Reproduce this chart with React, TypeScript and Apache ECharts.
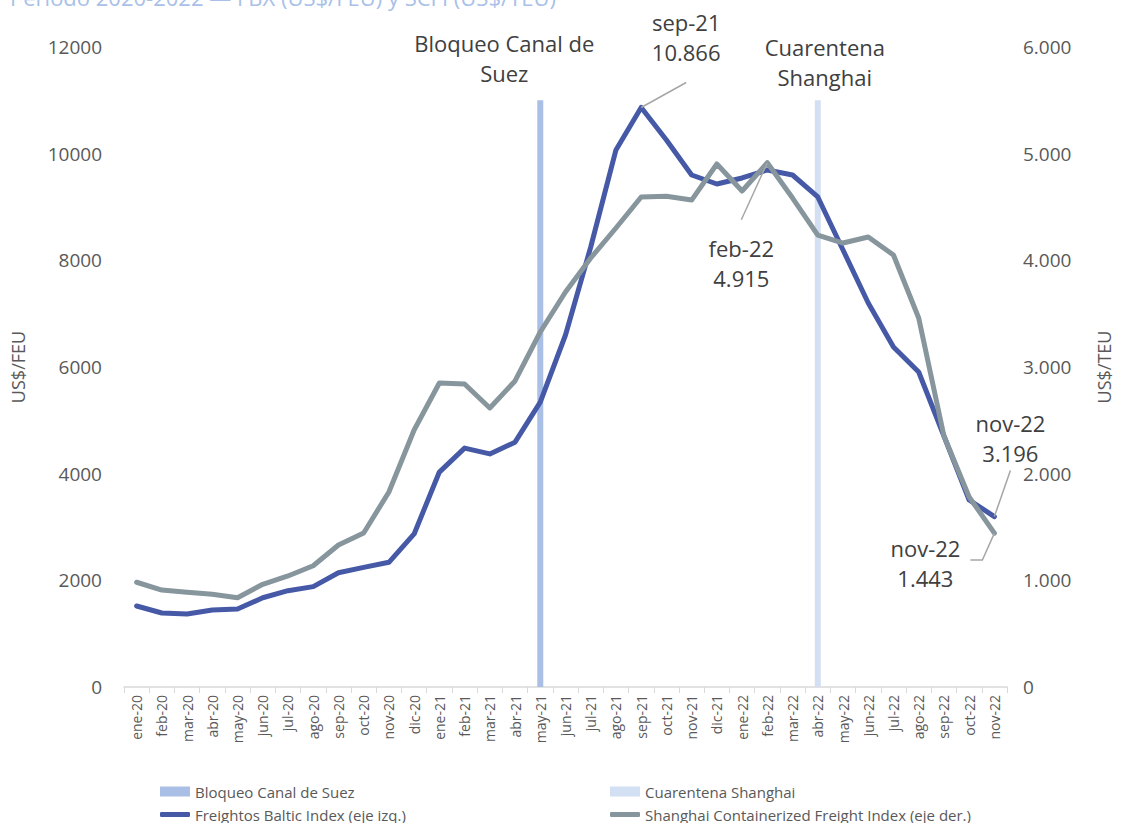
import React, { useEffect, useRef } from "react";
import * as echarts from "echarts";

const categories = [
  "ene-20", "feb-20", "mar-20", "abr-20", "may-20", "jun-20", "jul-20", "ago-20", "sep-20", "oct-20", "nov-20", "dic-20",
  "ene-21", "feb-21", "mar-21", "abr-21", "may-21", "jun-21", "jul-21", "ago-21", "sep-21", "oct-21", "nov-21", "dic-21",
  "ene-22", "feb-22", "mar-22", "abr-22", "may-22", "jun-22", "jul-22", "ago-22", "sep-22", "oct-22", "nov-22",
];

const fbx = [
  1519, 1388, 1369, 1444, 1462, 1674, 1806, 1882, 2143, 2244, 2338, 2870,
  4030, 4480, 4370, 4590, 5340, 6600, 8250, 10070, 10866, 10257, 9600, 9431,
  9544, 9694, 9600, 9188, 8194, 7200, 6375, 5906, 4706, 3506, 3196,
];

const scfi = [
  982, 909, 888, 869, 837, 963, 1041, 1137, 1331, 1444, 1828, 2409,
  2850, 2841, 2616, 2869, 3328, 3703, 4022, 4303, 4594, 4600, 4565, 4903,
  4650, 4915, 4584, 4237, 4162, 4219, 4050, 3459, 2353, 1781, 1443,
];

const suezMonth = "may-21";
const shanghaiMonth = "abr-22";
const eventBarHeight = 11000;

const suezBar = categories.map((c) => (c === suezMonth ? eventBarHeight : null));
const shanghaiBar = categories.map((c) => (c === shanghaiMonth ? eventBarHeight : null));

const leftTicks = { min: 0, max: 12000, interval: 2000 };
const rightTicks = { min: 0, max: 6000, interval: 1000 };

const titleText = "Periodo 2020-2022 — FBX (US$/FEU) y SCFI (US$/TEU)";
const nameSuez = "Bloqueo Canal de Suez";
const nameShanghai = "Cuarentena Shanghai";
const nameFbx = "Freightos Baltic Index (eje izq.)";
const nameScfi = "Shanghai Containerized Freight Index (eje der.)";

const FONT = "'Open Sans', sans-serif";
const BLUE = "#4659A7";
const GRAY = "#87959D";
const SUEZ_COLOR = "#A9BFE6";
const SHANGHAI_COLOR = "#D3DFF2";
const TEXT = "#404040";
const AXIS_TEXT = "#595959";
const LEADER = "#A6A6A6";

const fmtDots = (v: number) =>
  String(Math.round(v)).replace(/\B(?=(\d{3})+(?!\d))/g, ".");

const legendItem = (name: string, left: number, top: number, icon: string, h: number) => ({
  left,
  top,
  orient: "horizontal",
  itemWidth: 30,
  itemHeight: h,
  icon,
  textStyle: { fontSize: 15, color: AXIS_TEXT, fontFamily: FONT },
  data: [name],
});

export default function App() {
  const ref = useRef<HTMLDivElement>(null);

  useEffect(() => {
    if (!ref.current) return;
    const chart = echarts.init(ref.current, null, { renderer: "svg" });
    chart.setOption({
      animation: false,
      textStyle: { fontFamily: FONT },
      grid: { left: 124, right: 107, top: 47, bottom: 136 },
      legend: [
        legendItem(nameSuez, 155, 779, "rect", 10),
        legendItem(nameFbx, 155, 802, "roundRect", 5),
        legendItem(nameShanghai, 605, 779, "rect", 10),
        legendItem(nameScfi, 605, 802, "roundRect", 5),
      ],
      xAxis: {
        type: "category",
        data: categories,
        boundaryGap: true,
        axisLine: { lineStyle: { color: "#D9D9D9", width: 1.5 } },
        axisTick: { show: true, length: 6, lineStyle: { color: "#D9D9D9" } },
        axisLabel: { rotate: 90, fontSize: 14, color: AXIS_TEXT, margin: 8, interval: 0 },
      },
      yAxis: [
        {
          type: "value",
          ...leftTicks,
          name: "US$/FEU",
          nameLocation: "middle",
          nameRotate: 90,
          nameGap: 97,
          nameTextStyle: { fontSize: 18, color: AXIS_TEXT },
          axisLine: { show: false },
          axisTick: { show: false },
          splitLine: { show: false },
          axisLabel: { fontSize: 19, color: AXIS_TEXT, margin: 22, formatter: (v: number) => String(v) },
        },
        {
          type: "value",
          ...rightTicks,
          position: "right",
          name: "US$/TEU",
          nameLocation: "middle",
          nameRotate: 90,
          nameGap: 88,
          nameTextStyle: { fontSize: 18, color: AXIS_TEXT },
          axisLine: { show: false },
          axisTick: { show: false },
          splitLine: { show: false },
          axisLabel: { fontSize: 19, color: AXIS_TEXT, margin: 16, formatter: fmtDots },
        },
      ],
      series: [
        {
          name: nameSuez,
          type: "bar",
          data: suezBar,
          barWidth: 6,
          barGap: "-100%",
          itemStyle: { color: SUEZ_COLOR },
          yAxisIndex: 0,
        },
        {
          name: nameShanghai,
          type: "bar",
          data: shanghaiBar,
          barWidth: 6,
          barGap: "-100%",
          itemStyle: { color: SHANGHAI_COLOR },
          yAxisIndex: 0,
        },
        {
          name: nameFbx,
          type: "line",
          data: fbx,
          yAxisIndex: 0,
          symbol: "none",
          lineStyle: { color: BLUE, width: 5, cap: "round", join: "round" },
          itemStyle: { color: BLUE },
        },
        {
          name: nameScfi,
          type: "line",
          data: scfi,
          yAxisIndex: 1,
          symbol: "none",
          lineStyle: { color: GRAY, width: 5, cap: "round", join: "round" },
          itemStyle: { color: GRAY },
        },
      ],
    });

    const px = (axis: number, idx: number, val: number) =>
      chart.convertToPixel({ xAxisIndex: 0, yAxisIndex: axis }, [idx, val]) as number[];

    const iSep21 = categories.indexOf("sep-21");
    const iFeb22 = categories.indexOf("feb-22");
    const iLast = categories.length - 1;
    const iSuez = categories.indexOf(suezMonth);
    const iSh = categories.indexOf(shanghaiMonth);

    const pSep = px(0, iSep21, fbx[iSep21]);
    const pFeb = px(1, iFeb22, scfi[iFeb22]);
    const pNovB = px(0, iLast, fbx[iLast]);
    const pNovG = px(1, iLast, scfi[iLast]);
    const pSuez = px(0, iSuez, eventBarHeight);
    const pSh = px(0, iSh, eventBarHeight);

    const txt = (x: number, y: number, text: string) => ({
      type: "text",
      x,
      y,
      style: {
        text,
        fill: TEXT,
        font: `22px ${FONT}`,
        align: "center",
        verticalAlign: "top",
        lineHeight: 30,
      },
      z: 20,
    });
    const seg = (pts: number[][]) => ({
      type: "polyline",
      shape: { points: pts },
      style: { stroke: LEADER, lineWidth: 1.5, fill: null },
      z: 20,
    });

    chart.setOption({
      graphic: [
        {
          type: "text",
          x: 10,
          y: -14,
          style: {
            text: titleText,
            fill: "#A9C0E8",
            font: `22px ${FONT}`,
            align: "left",
            verticalAlign: "top",
          },
        },
        txt(pSuez[0] - 36, pSuez[1] - 72, "Bloqueo Canal de\nSuez"),
        txt(pSh[0] + 7, pSh[1] - 68, "Cuarentena\nShanghai"),
        txt(pSep[0] + 45, pSep[1] - 100, "sep-21\n10.866"),
        seg([[pSep[0], pSep[1]], [pSep[0] + 45, pSep[1] - 25]]),
        txt(pFeb[0] - 26, pFeb[1] + 70, "feb-22\n4.915"),
        seg([[pFeb[0], pFeb[1]], [pFeb[0] - 26, pFeb[1] + 57]]),
        txt(pNovB[0] + 16, pNovB[1] - 109, "nov-22\n3.196"),
        seg([[pNovB[0], pNovB[1]], [pNovB[0] + 16, pNovB[1] - 46]]),
        txt(pNovG[0] - 69, pNovG[1], "nov-22\n1.443"),
        seg([[pNovG[0], pNovG[1]], [pNovG[0] - 12, pNovG[1] + 27], [pNovG[0] - 24, pNovG[1] + 27]]),
      ],
    });

    return () => chart.dispose();
  }, []);

  return (
    <div
      ref={ref}
      style={{ position: "fixed", left: 0, top: 0, width: 1121, height: 823, background: "#fff" }}
    />
  );
}
